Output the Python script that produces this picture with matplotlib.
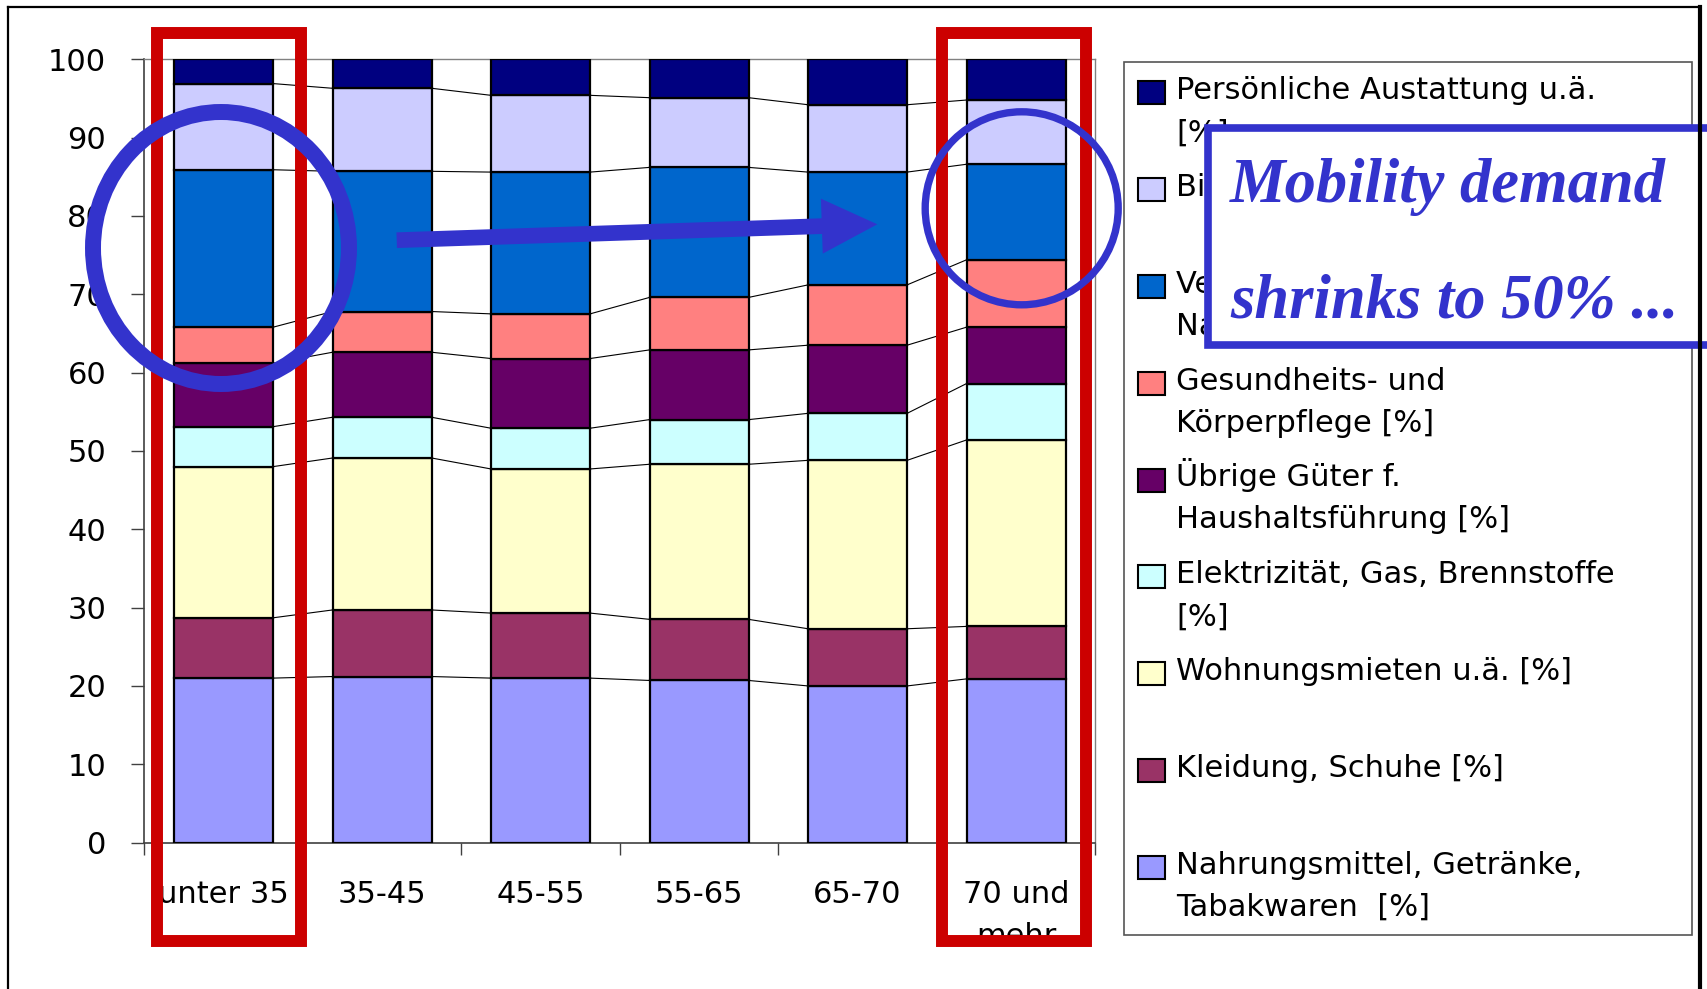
import matplotlib
matplotlib.use("Agg")
import matplotlib.pyplot as plt
import numpy as np
from matplotlib.patches import Rectangle, Ellipse, FancyArrow
from matplotlib.lines import Line2D
from matplotlib.transforms import Affine2D

plt.rcParams['font.family'] = ['DejaVu Sans']

# ---------------- data ----------------
categories = ["unter 35", "35-45", "45-55", "55-65", "65-70", "70 und\nmehr"]

nahrung = [21.0, 21.2, 21.0, 20.7, 20.0, 20.9]
kleidung = [7.7, 8.5, 8.3, 7.8, 7.3, 6.7]
wohnung = [19.3, 19.4, 18.4, 19.8, 21.5, 23.8]
energie = [5.1, 5.2, 5.2, 5.7, 6.0, 7.2]
haushalt = [8.1, 8.3, 8.9, 8.9, 8.7, 7.2]
gesundheit = [4.6, 5.2, 5.7, 6.7, 7.7, 8.6]
verkehr = [20.1, 17.9, 18.1, 16.6, 14.4, 12.2]
bildung = [11.0, 10.6, 9.8, 8.9, 8.6, 8.2]
persoenlich = [3.1, 3.7, 4.6, 4.9, 5.8, 5.2]

series_values = [nahrung, kleidung, wohnung, energie, haushalt,
                 gesundheit, verkehr, bildung, persoenlich]
series_labels = [
    "Nahrungsmittel, Getränke,\nTabakwaren  [%]",
    "Kleidung, Schuhe [%]",
    "Wohnungsmieten u.ä. [%]",
    "Elektrizität, Gas, Brennstoffe\n[%]",
    "Übrige Güter f.\nHaushaltsführung [%]",
    "Gesundheits- und\nKörperpflege [%]",
    "Verkehr und\nNachrichtenübermittlung [%]",
    "Bildung, Unterhaltung, Freizeit [%]",
    "Persönliche Austattung u.ä.\n[%]",
]
series_colors = ["#9999FF", "#993366", "#FFFFCC", "#CCFFFF", "#660066",
                 "#FF8080", "#0066CC", "#CCCCFF", "#000080"]
y_ticks = [0, 10, 20, 30, 40, 50, 60, 70, 80, 90, 100]
annotation_lines = ["Mobility demand", "shrinks to 50% ..."]

# ---------------- figure ----------------
W, H = 1707, 989
fig = plt.figure(figsize=(W / 100, H / 100), dpi=100, facecolor="white")
px = Affine2D().scale(1.0 / W, -1.0 / H).translate(0, 1) + fig.transFigure

ax = fig.add_axes([144.3 / W, 1 - 842.6 / H, 951.0 / W, (842.6 - 59.3) / H])

x = np.arange(len(categories))
bw = 0.625
bottom = np.zeros(len(categories))
tops = []
for vals, col in zip(series_values, series_colors):
    v = np.array(vals)
    ax.bar(x, v, bw, bottom=bottom, color=col, edgecolor="black",
           linewidth=1.6, zorder=3)
    bottom = bottom + v
    tops.append(bottom.copy())

# series lines between bars
for cum in tops[:-1]:
    for i in range(len(categories) - 1):
        ax.plot([x[i] + bw / 2, x[i + 1] - bw / 2], [cum[i], cum[i + 1]],
                color="black", linewidth=0.8, zorder=2)

ax.set_xlim(-0.5, len(categories) - 0.5)
ax.set_ylim(0, 100)
ax.set_yticks(y_ticks)
ax.set_yticklabels([str(t) for t in y_ticks], fontsize=22)
ax.tick_params(axis="y", direction="out", length=9.4, width=1.0,
               color="#404040", pad=18)
ax.set_xticks(x)
ax.set_xticklabels(categories, fontsize=22, linespacing=1.55)
ax.tick_params(axis="x", which="major", length=0, pad=27)
ax.set_xticks(np.arange(-0.5, len(categories), 1.0), minor=True)
ax.tick_params(axis="x", which="minor", direction="out", length=8.3,
               width=1.0, color="#404040")
for s in ["left", "bottom"]:
    ax.spines[s].set_color("#404040")
    ax.spines[s].set_linewidth(1.2)
for s in ["top", "right"]:
    ax.spines[s].set_color("#808080")
    ax.spines[s].set_linewidth(1.0)

# ---------------- legend (manual) ----------------
fig.add_artist(Rectangle((1124, 62), 568, 873, transform=px, facecolor="white",
                         edgecolor="#555555", linewidth=1.2, zorder=2))
box_left, box_top, box_bottom = 1204.0, 124.0, 349.0
clip_rect = Rectangle((1124, 62), box_left - 1124, 873, transform=px)
for k, idx in enumerate(range(len(series_labels) - 1, -1, -1)):
    cy = 92.8 + 96.8 * k
    fig.add_artist(Rectangle((1138, cy - 11.5), 27, 23, transform=px,
                             facecolor=series_colors[idx], edgecolor="black",
                             linewidth=1.5, zorder=3))
    for j, line in enumerate(series_labels[idx].split("\n")):
        base = cy + 6.5 + 42 * j
        t = fig.text(1176, base, line, transform=px, fontsize=22,
                     va="baseline", ha="left", zorder=3)
        if box_top + 20 < base < box_bottom + 5:
            t.set_clip_path(clip_rect)

# ---------------- outer frame ----------------
fig.add_artist(Line2D([8.4, 8.4], [6.7, 1000], transform=px, color="black",
                      linewidth=1.6, zorder=10))
fig.add_artist(Line2D([8.4, 1700], [6.7, 6.7], transform=px, color="black",
                      linewidth=1.6, zorder=10))
fig.add_artist(Line2D([1700, 1700], [6.7, 1000], transform=px, color="black",
                      linewidth=3.0, zorder=10))

# ---------------- red highlight frames ----------------
red = "#CC0000"
for (x0, x1) in [(156.7, 301.0), (941.5, 1086.0)]:
    fig.add_artist(Rectangle((x0, 32.7), x1 - x0, 941 - 32.7, transform=px,
                             fill=False, edgecolor=red, linewidth=8.6,
                             joinstyle="miter", zorder=5))

# ---------------- blue ellipses and arrow ----------------
blue = "#3333CC"
fig.add_artist(Ellipse((221, 248), 256, 272, transform=px, fill=False,
                       edgecolor=blue, linewidth=11.5, zorder=6))
fig.add_artist(Ellipse((1021.7, 208.3), 193, 193, transform=px, fill=False,
                       edgecolor=blue, linewidth=5.3, zorder=6))
fig.add_artist(FancyArrow(396.7, 240.2, 480.6, -15.9, width=15.7,
                          head_width=55, head_length=55.5,
                          length_includes_head=True, transform=px,
                          facecolor=blue, edgecolor="none", zorder=6))

# ---------------- annotation box ----------------
fig.add_artist(Rectangle((1208, 128), 540, 217, transform=px,
                         facecolor="white", edgecolor=blue, linewidth=5.5,
                         zorder=7))
for j, line in enumerate(annotation_lines):
    fig.text(1230, 201.7 + 115.6 * j, line, transform=px, fontsize=45,
             family="Liberation Serif", weight="bold", style="italic",
             color=blue, va="baseline", ha="left", zorder=8)

fig.savefig("out.png", dpi=100, facecolor="white")
